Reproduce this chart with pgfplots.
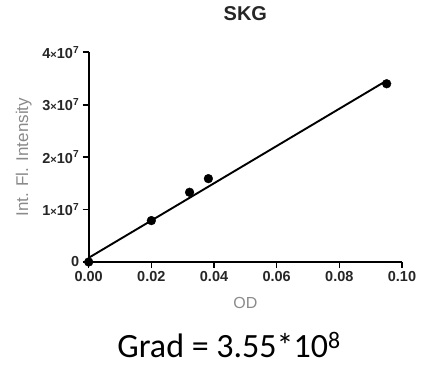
\documentclass[border=0pt]{standalone}
\usepackage{fontspec}
\setmainfont{Liberation Sans}
\newfontfamily\calibri{Carlito}
\usepackage{pgfplots}
\pgfplotsset{compat=1.18}
\definecolor{lab}{HTML}{8A8A8A}
\begin{document}
\begin{tikzpicture}
\path[use as bounding box] (-88.7bp,-113bp) rectangle (334.3bp,262bp);
\begin{axis}[
  at={(0,0)}, anchor=south west,
  scale only axis, width=313.3bp, height=209.7bp,
  xmin=0, xmax=0.1, ymin=0, ymax=4e7,
  scaled y ticks=false, scaled x ticks=false,
  axis x line*=bottom, axis y line*=left,
  axis line style={-, line width=2.3bp, black},
  tick style={line width=1.6bp, black},
  major tick length=6bp, tick align=outside,
  clip=false,
  xtick={0,0.02,0.04,0.06,0.08,0.1},
  xticklabels={0.00,0.02,0.04,0.06,0.08,0.10},
  ytick={0,1e7,2e7,3e7,4e7},
  yticklabels={0,1{\fontsize{11bp}{12bp}\selectfont ×}10\textsuperscript{7},2{\fontsize{11bp}{12bp}\selectfont ×}10\textsuperscript{7},3{\fontsize{11bp}{12bp}\selectfont ×}10\textsuperscript{7},4{\fontsize{11bp}{12bp}\selectfont ×}10\textsuperscript{7}},
  ticklabel style={font=\bfseries\fontsize{14.5bp}{16bp}\selectfont, text=black!85},
  title={SKG},
  title style={at={(axis description cs:0.5,1.1564)}, anchor=center, font=\bfseries\fontsize{20bp}{22bp}\selectfont, text=black!85},
  xlabel={OD},
  xlabel style={at={(axis description cs:0.5,-0.1955)}, anchor=center, text=lab, font=\fontsize{16bp}{18bp}\selectfont},
  ylabel={Int. Fl. Intensity},
  ylabel style={at={(axis description cs:-0.2075,0.5)}, anchor=center, text=lab, font=\fontsize{17bp}{19bp}\selectfont},
]
\addplot[line width=1.9bp, black, no marks] coordinates {(0,0.8e6) (0.0951,3.46e7)};
\addplot[only marks, mark=*, mark size=4.4bp, black] coordinates {(0,0) (0.0200,7.9e6) (0.0322,1.33e7) (0.0382,1.59e7) (0.0951,3.40e7)};
\end{axis}
\node[anchor=base] at (140.3bp,-95bp) {\calibri\fontsize{34bp}{40bp}\selectfont Grad = 3.55*10\textsuperscript{8}};
\end{tikzpicture}
\end{document}
